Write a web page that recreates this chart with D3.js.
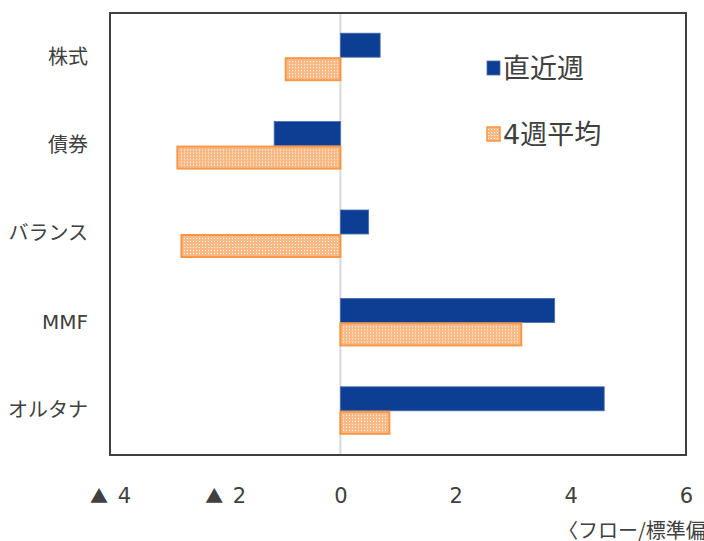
<!DOCTYPE html>
<html lang="ja">
<head>
<meta charset="utf-8">
<title>フロー</title>
<script src="https://cdn.jsdelivr.net/npm/d3@7"></script>
<style>
  body { margin: 0; background: #fff; }
  svg { display: block; font-family: "Noto Sans CJK JP", "Noto Sans", sans-serif; }
</style>
</head>
<body>
<script>
// data
var categories = ["株式", "債券", "バランス", "MMF", "オルタナ"];
var seriesNames = ["直近週", "4週平均"];
var latestWeek = [0.69, -1.15, 0.49, 3.72, 4.58];
var fourWeekAvg = [-0.95, -2.83, -2.76, 3.14, 0.85];
var tickValues = [-4, -2, 0, 2, 4, 6];
var unitNote = "〈フロー/標準偏差〉";

var w = 704, h = 541;
var plotLeft = 110, plotRight = 686, plotTop = 13, plotBottom = 455;
var mixFont = "'DejaVu Sans', 'Noto Sans CJK JP', sans-serif";

var svg = d3.select("body").append("svg")
    .attr("width", w)
    .attr("height", h);

var defs = svg.append("defs");
var pat = defs.append("pattern")
    .attr("id", "dots")
    .attr("patternUnits", "userSpaceOnUse")
    .attr("width", 3)
    .attr("height", 3);
pat.append("rect").attr("width", 3).attr("height", 3).attr("fill", "#f9b985");
pat.append("rect").attr("x", 1).attr("y", 1).attr("width", 1).attr("height", 1).attr("fill", "#ffffff");

var rows = categories.map(function (c, i) {
    return { cat: c, vals: [latestWeek[i], fourWeekAvg[i]] };
});

var x = d3.scaleLinear().domain([-4, 6]).range([plotLeft, plotRight]);
var y = d3.scaleBand().domain(categories).range([plotTop, plotBottom])
    .paddingInner(0.457).paddingOuter(0.2285);
var ySub = d3.scaleBand().domain([0, 1]).range([0, y.bandwidth()]);

// zero line
svg.append("line")
    .attr("x1", x(0)).attr("x2", x(0))
    .attr("y1", plotTop).attr("y2", plotBottom)
    .attr("stroke", "#d9d9d9")
    .attr("stroke-width", 2);

// bars
var g = svg.selectAll("g.cat")
    .data(rows)
    .enter().append("g")
    .attr("class", "cat")
    .attr("transform", function (d) { return "translate(0," + y(d.cat) + ")"; });

g.selectAll("rect")
    .data(function (d) { return d.vals; })
    .enter().append("rect")
    .attr("x", function (d) { return x(Math.min(0, d)); })
    .attr("y", function (d, i) { return ySub(i) + (i == 1 ? 1 : 0); })
    .attr("width", function (d) { return Math.abs(x(d) - x(0)); })
    .attr("height", function (d, i) { return ySub.bandwidth() - (i == 1 ? 2 : 0); })
    .attr("fill", function (d, i) { return i == 0 ? "#0c3f94" : "url(#dots)"; })
    .attr("stroke", function (d, i) { return i == 0 ? "#4a6bab" : "#f79646"; })
    .attr("stroke-width", function (d, i) { return i == 0 ? 0.8 : 2; });

// frame
svg.append("rect")
    .attr("x", plotLeft).attr("y", plotTop)
    .attr("width", plotRight - plotLeft).attr("height", plotBottom - plotTop)
    .attr("fill", "none")
    .attr("stroke", "#404040")
    .attr("stroke-width", 2);

// x axis
var xAxis = svg.append("g")
    .attr("transform", "translate(0," + plotBottom + ")")
    .call(d3.axisBottom(x)
        .tickValues(tickValues)
        .tickSize(0)
        .tickPadding(33)
        .tickFormat(function (d) { return d < 0 ? "▲ " + Math.abs(d) : d; }));
xAxis.select(".domain").remove();
xAxis.selectAll("text")
    .attr("font-size", "21px")
    .attr("font-family", mixFont)
    .attr("fill", "#404040")
    .each(function (d) {
        if (d >= 0) return;
        var t = d3.select(this).text("");
        t.append("tspan")
            .attr("font-family", "'Noto Sans CJK JP', sans-serif")
            .attr("font-size", "18px")
            .text("▲");
        t.append("tspan").attr("dx", 3).text(" " + Math.abs(d));
    });

// category axis
var yAxis = svg.append("g")
    .attr("transform", "translate(88,0)")
    .call(d3.axisLeft(y).tickSize(0).tickPadding(0));
yAxis.select(".domain").remove();
yAxis.selectAll("text")
    .attr("font-size", "20px")
    .attr("font-family", mixFont)
    .attr("fill", "#404040");

// legend
var legend = svg.selectAll("g.legend")
    .data(seriesNames)
    .enter().append("g")
    .attr("class", "legend")
    .attr("transform", function (d, i) { return "translate(487," + (68 + i * 66) + ")"; });

legend.append("rect")
    .attr("x", 0).attr("y", -7)
    .attr("width", 13).attr("height", 14)
    .attr("fill", function (d, i) { return i == 0 ? "#0c3f94" : "url(#dots)"; })
    .attr("stroke", function (d, i) { return i == 0 ? "#4a6bab" : "#f79646"; })
    .attr("stroke-width", function (d, i) { return i == 0 ? 0.8 : 1.5; });

legend.append("text")
    .attr("x", 16)
    .attr("y", 0)
    .attr("dy", "0.36em")
    .attr("font-size", "27px")
    .attr("font-family", mixFont)
    .attr("fill", "#404040")
    .text(function (d) { return d; });

// unit note
svg.append("text")
    .attr("x", 558)
    .attr("y", 538)
    .attr("font-size", "20px")
    .attr("fill", "#404040")
    .text(unitNote);
</script>
</body>
</html>
